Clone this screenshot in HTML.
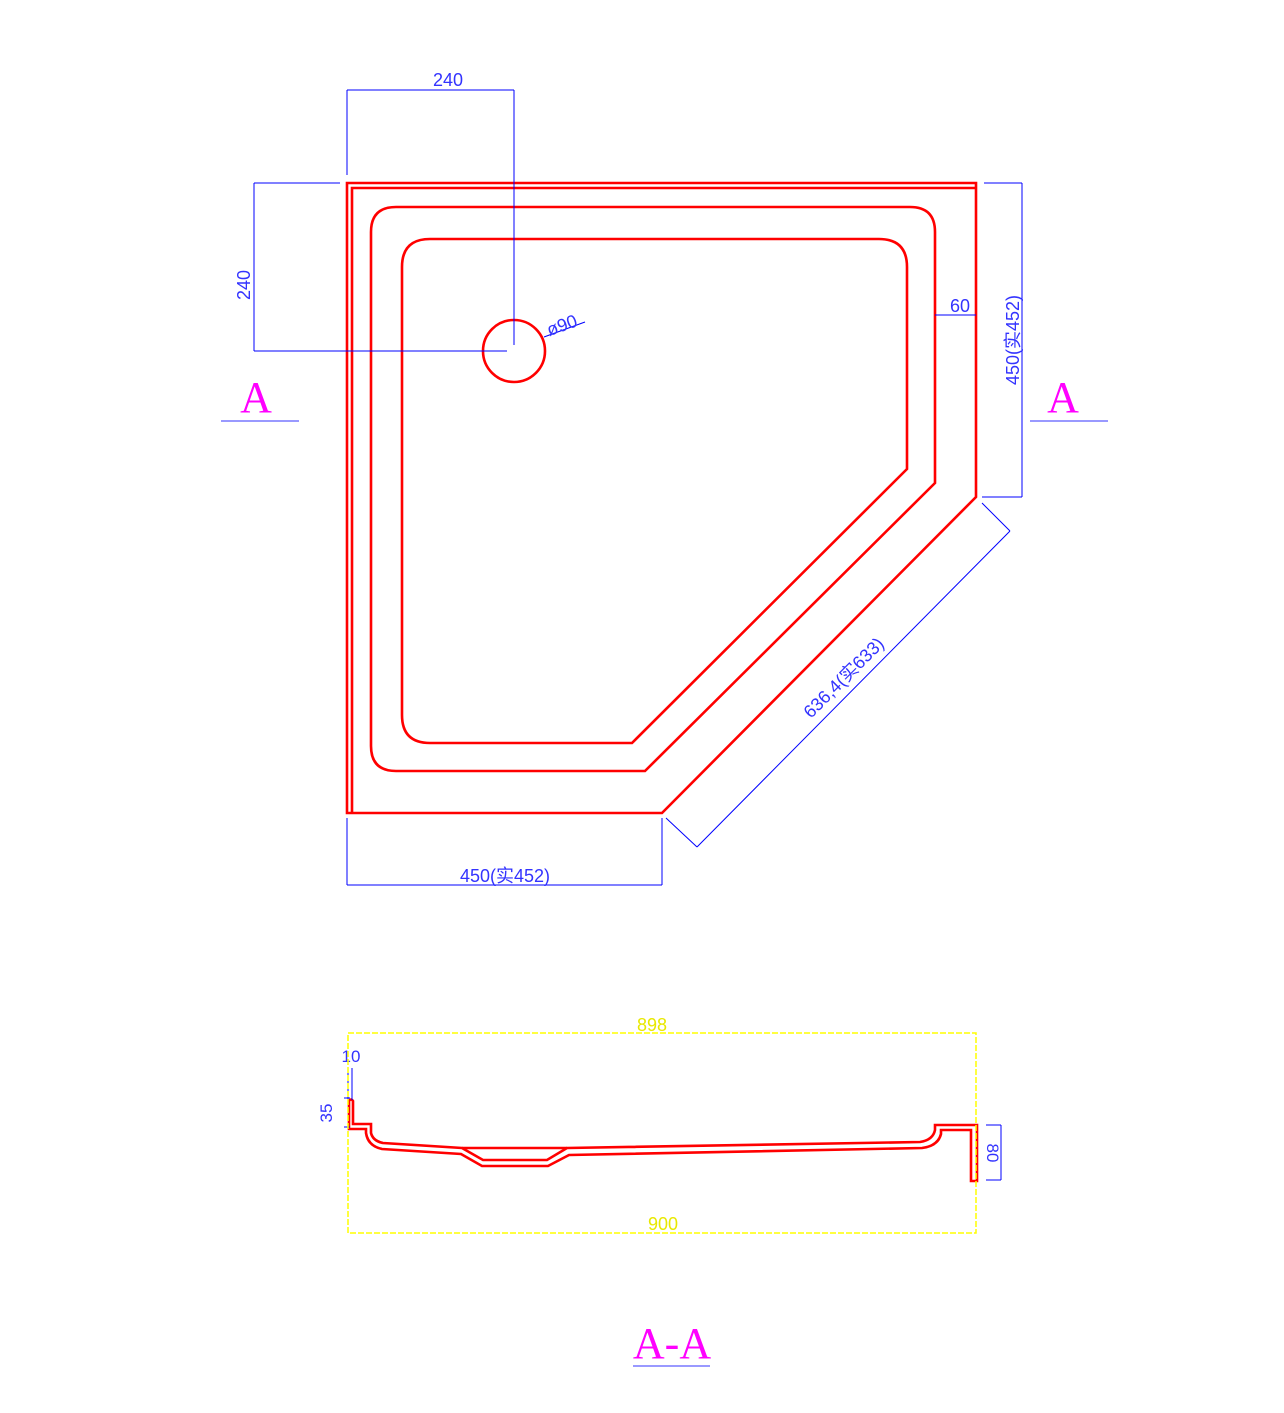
<!DOCTYPE html>
<html><head><meta charset="utf-8"><style>
html,body{margin:0;padding:0;background:#fff;}
svg{display:block;}
text{font-family:"Liberation Sans","Noto Sans CJK SC",sans-serif;}
text.ser{font-family:"Liberation Serif",serif;}
</style></head><body>
<svg width="1284" height="1413" viewBox="0 0 1284 1413" xmlns="http://www.w3.org/2000/svg">
<g fill="none" stroke="#ff0000" stroke-width="2.6" stroke-linejoin="miter">
  <path d="M347,813 L347,183 L976,183 L976,497 L662,813 Z"/>
  <path d="M352,813 L352,188 L976,188"/>
  <path d="M396,207 L910,207 Q935,207 935,232 L935,483 L645,771 L396,771 Q371,771 371,746 L371,232 Q371,207 396,207 Z"/>
  <path d="M430,239 L879,239 Q907,239 907,267 L907,469 L632,743 L430,743 Q402,743 402,715 L402,267 Q402,239 430,239 Z"/>
  <circle cx="514" cy="351" r="31"/>
  <path d="M349,1127 L349,1101 Q351,1098 353,1101 L353,1124 L371,1124 L371,1133 Q373,1141 383,1143 L462,1148 L483,1160 L547,1160 L567,1148 L920,1142 Q933,1140 935,1130 L935,1125 L977,1125 L977,1181 L971,1181 L971,1130 L941,1130 L941,1134 Q938,1146 922,1148 L569,1155 L548,1166 L482,1166 L461,1154 L382,1149 Q368,1146 366,1133 L366,1129 L349,1129 Z"/>
  <path d="M462,1148 L567,1148"/>
</g>
<g stroke="#0000ff" stroke-width="1" fill="none">
  <path d="M347,90 L347,175 M514,90 L514,345 M347,90 L514,90"/>
  <path d="M254,183 L340,183 M254,351 L507,351 M254,183 L254,351"/>
  <path d="M935,315 L976,315"/>
  <path d="M984,183 L1022,183 M982,497 L1022,497 M1022,183 L1022,497"/>
  <path d="M347,818 L347,885 M662,818 L662,885 M347,885 L662,885"/>
  <path d="M982,503 L1010,531 M666,818 L697,847 M1010,531 L697,847"/>
  <path d="M544,337 L585,322"/>
  <path d="M348,1068 L348,1100 M352,1068 L352,1100 M344,1098 L350,1098 M344,1127 L350,1127 M986,1125 L1001,1125 M986,1180 L1001,1180 M1001,1125 L1001,1180"/>
</g>
<g fill="#3333ff" font-size="18">
  <text x="448" y="86" text-anchor="middle">240</text>
  <text transform="translate(250,285) rotate(-90)" text-anchor="middle">240</text>
  <text x="960" y="312" text-anchor="middle">60</text>
  <text transform="translate(1019,340) rotate(-90)" text-anchor="middle">450(实452)</text>
  <text x="505" y="882" text-anchor="middle">450(实452)</text>
  <text transform="translate(848,682) rotate(-45)" text-anchor="middle">636,4(实633)</text>
  <text transform="translate(564,331) rotate(-20)" text-anchor="middle">ø90</text>
  <text x="351" y="1062" text-anchor="middle" font-size="17">10</text>
  <text transform="translate(332,1113) rotate(-90)" text-anchor="middle" font-size="17">35</text>
  <text transform="translate(987,1153) rotate(90)" text-anchor="middle" font-size="17">80</text>
</g>
<rect x="348" y="1033" width="628" height="200" fill="none" stroke="#ffff00" stroke-width="1.5" stroke-dasharray="6,2"/>
<g fill="#e8e800" font-size="18">
  <text x="652" y="1031" text-anchor="middle">898</text>
  <text x="663" y="1230" text-anchor="middle">900</text>
</g>
<g fill="#ff00ff" font-size="44">
  <text class="ser" x="256" y="412" text-anchor="middle">A</text>
  <text class="ser" x="1063" y="412" text-anchor="middle">A</text>
  <text class="ser" x="672" y="1358" text-anchor="middle">A-A</text>
</g>
<g stroke="#3333ff" stroke-width="1">
  <path d="M221,421 L299,421 M1030,421 L1108,421 M633,1366 L710,1366"/>
</g>
</svg>
</body></html>
